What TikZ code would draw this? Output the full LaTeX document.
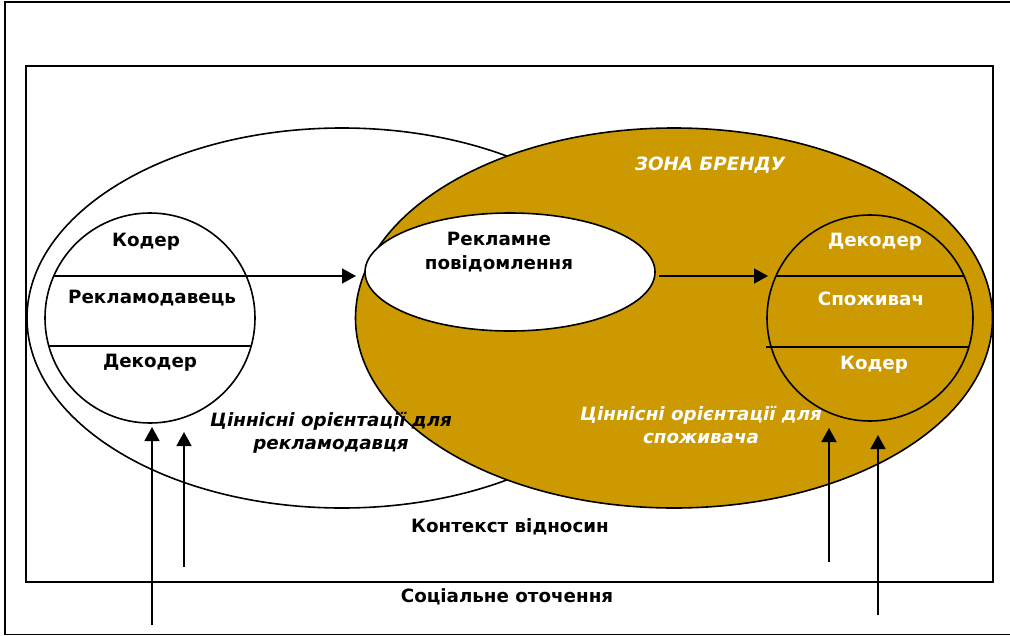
\documentclass[tikz,border=0pt]{standalone}
\usepackage{fontspec}
\setmainfont{DejaVu Sans}
\usetikzlibrary{arrows.meta,shapes.geometric,calc}
\definecolor{brandgold}{RGB}{204,153,0}
\begin{document}
\begin{tikzpicture}[x=1pt,y=-1pt,line width=1.6pt,
  lbl/.style={font=\bfseries\fontsize{18.3}{24}\selectfont,align=center,inner sep=0pt},
  ilbl/.style={font=\bfseries\itshape\fontsize{18.3}{23}\selectfont,align=center,inner sep=0pt},
  arr/.style={-{Triangle[length=14pt,width=15pt]}},
  ring/.style={draw,circle,inner sep=0pt,outer sep=0pt}]
\useasboundingbox (0,0) rectangle (1010,635);
% frames
\node[draw,rectangle,line width=1.6pt,minimum width=1010pt,minimum height=632.5pt,anchor=north west,inner sep=0pt,outer sep=0pt] (outer) at (5,2) {};
\node[draw,rectangle,line width=1.6pt,minimum width=967pt,minimum height=516pt,anchor=north west,inner sep=0pt,outer sep=0pt] (inner) at (26,66) {};
% ellipses
\node[draw,ellipse,fill=white,minimum width=630pt,minimum height=380pt,inner sep=0pt,outer sep=0pt] (adv) at (342,318) {};
\node[draw,ellipse,fill=brandgold,minimum width=637pt,minimum height=380pt,inner sep=0pt,outer sep=0pt] (brand) at (674,318) {};
\node[draw,ellipse,fill=white,minimum width=290pt,minimum height=118pt,inner sep=0pt,outer sep=0pt] (msg) at (510,272) {};
% circles
\node[ring,minimum size=210pt] (sender) at (150,318) {};
\node[ring,minimum size=206pt] (consumer) at (870,318) {};
% chord end points
\coordinate (s1l) at ($(sender.center)+(-96.2,-42)$);
\coordinate (s1r) at ($(sender.center)+(96.2,-42)$);
\coordinate (s2l) at ($(sender.center)+(-101.2,28)$);
\coordinate (s2r) at ($(sender.center)+(101.2,28)$);
\coordinate (c1l) at ($(consumer.center)+(-94,-42)$);
\coordinate (c1r) at ($(consumer.center)+(94,-42)$);
\coordinate (c2l) at ($(consumer.center)+(-104,29)$);
\coordinate (c2r) at ($(consumer.center)+(98.8,29)$);
% chords
\draw (s1l) -- (s1r);
\draw (s2l) -- (s2r);
\draw (c1l) -- (c1r);
\draw (c2l) -- (c2r);
% message arrows
\draw[arr,shorten >=9pt] (s1r) -- (s1r -| msg.west);
\draw[arr,shorten >=8pt] (c1l -| msg.east) ++(4,0) coordinate (m1) (m1) -- (c1l);
% influence arrows
\coordinate (a1) at (152,625);
\coordinate (a2) at (184,567);
\coordinate (a3) at (829,562);
\coordinate (a4) at (878,615);
\draw[arr,shorten >=4pt] (a1) -- (a1 |- sender.south);
\draw[arr,shorten >=9pt] (a2) -- (a2 |- sender.south);
\draw[arr,shorten >=7pt] (a3) -- (a3 |- consumer.south);
\draw[arr,shorten >=14pt] (a4) -- (a4 |- consumer.south);
% texts
\node[lbl] (t1) at (146,242) {Кодер};
\node[lbl] (t2) at (152,298) {Рекламодавець};
\node[lbl] (t3) at (150,363) {Декодер};
\node[lbl] (t4) at (499,252) {Рекламне\\повідомлення};
\node[ilbl,text=white] (t5) at (710,165) {ЗОНА БРЕНДУ};
\node[lbl,text=white] (t6) at (875,242) {Декодер};
\node[lbl,text=white] (t7) at (871,299) {Споживач};
\node[lbl,text=white] (t8) at (874,365) {Кодер};
\node[ilbl] (t9) at (331,433) {Ціннісні орієнтації для\\рекламодавця};
\node[ilbl,text=white] (t10) at (701,425) {Ціннісні орієнтації для\\споживача};
\node[lbl] (t11) at (510,527) {Контекст відносин};
\node[lbl] (t12) at (507,597) {Соціальне оточення};
\end{tikzpicture}
\end{document}
